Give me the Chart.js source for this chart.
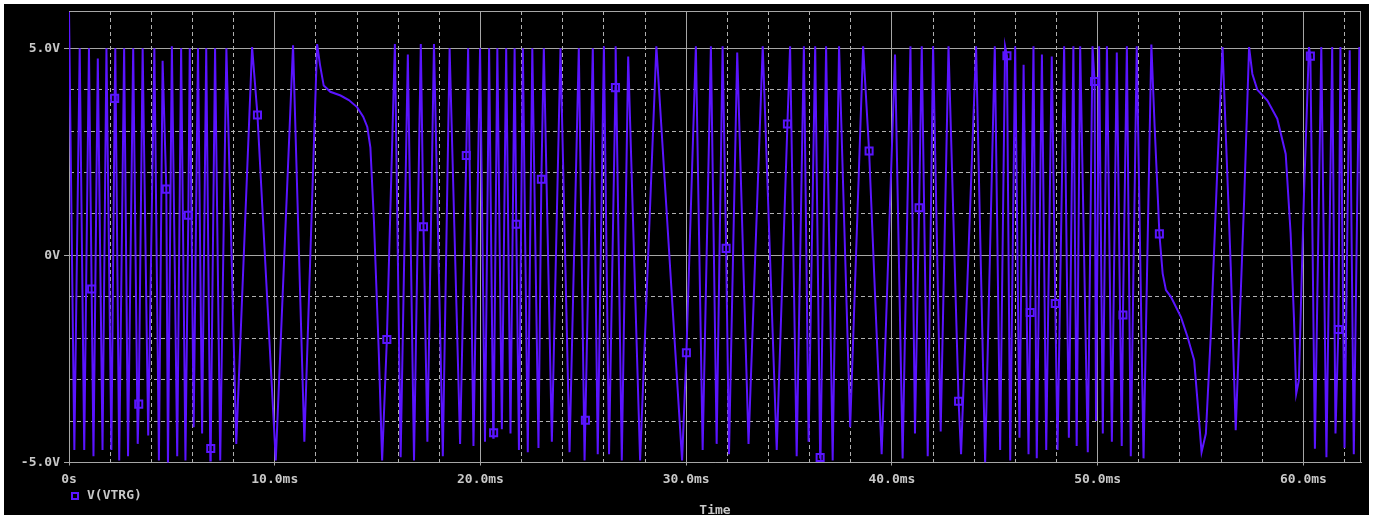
<!DOCTYPE html>
<html lang="en">
<head>
<meta charset="UTF-8">
<title>V(VTRG) transient</title>
<script src="https://cdn.jsdelivr.net/npm/chart.js"></script>
<style>
  html, body { margin: 0; padding: 0; background: #ffffff; overflow: hidden; }
  .scope { position: absolute; left: 4px; top: 4px; width: 1365px; height: 511px; background: #000000; }
</style>
</head>
<body>
<div class="scope"><canvas id="trace"></canvas></div>
<script>
// waveform turning points (time in ms, volts)
const waveTimeMs = [
  0, 0.26, 0.52, 0.74, 0.97, 1.19, 1.40, 1.63, 1.82, 2.06, 2.25, 2.44, 2.68, 2.87, 3.12, 3.34, 3.58, 3.85,
  4.15, 4.37, 4.55, 4.81, 5.00, 5.26, 5.45, 5.66, 5.87, 6.06, 6.27, 6.47, 6.67, 6.87, 7.10, 7.35, 7.65, 8.13,
  8.90, 10.05, 10.89, 11.44, 12.06, 12.2, 12.38, 12.7, 13.2, 13.6, 14.0, 14.3, 14.5, 14.65, 14.82, 15.06, 15.22,
  15.84, 16.12, 16.47, 16.77, 17.10, 17.42, 17.74, 18.17, 18.50, 19.01, 19.40, 19.66, 19.98, 20.22, 20.42, 20.62,
  20.82, 21.04, 21.25, 21.46, 21.66, 21.87, 22.06, 22.30, 22.52, 22.82, 23.08, 23.47, 23.89, 24.33, 24.78, 25.06,
  25.46, 25.70, 26.00, 26.25, 26.57, 26.87, 27.18, 27.76, 28.55, 29.80, 30.47, 30.80, 31.20, 31.48, 31.77, 32.08,
  32.48, 33.03, 33.72, 34.40, 35.05, 35.37, 35.72, 35.95, 36.27, 36.53, 36.80, 37.12, 37.43, 37.97, 38.60, 39.50,
  40.15, 40.52, 40.90, 41.12, 41.45, 41.74, 42.00, 42.37, 42.75, 43.36, 44.09, 44.53, 45.00, 45.26, 45.50, 45.75,
  45.99, 46.20, 46.40, 46.64, 46.88, 47.04, 47.29, 47.50, 47.77, 48.05, 48.37, 48.60, 48.82, 48.98, 49.15, 49.52,
  49.75, 49.92, 50.07, 50.25, 50.45, 50.69, 50.93, 51.17, 51.42, 51.61, 51.90, 52.23, 52.61, 52.77, 52.93, 53.16,
  53.32, 53.56, 54.05, 54.37, 54.69, 54.85, 55.05, 55.26, 55.50, 55.82, 56.07, 56.47, 56.71, 57.12, 57.36, 57.52,
  57.76, 58.25, 58.73, 59.14, 59.38, 59.54, 59.65, 59.78, 60.02, 60.27, 60.56, 60.87, 61.12, 61.40, 61.56, 61.80,
  62.00, 62.25, 62.45, 62.72, 62.80
];
const waveVolts = [
  5.9, -4.7, 5.0, -4.7, 5.0, -4.85, 4.75, -4.7, 5.0, -4.7, 5.0, -4.95, 5.0, -4.85, 5.0, -4.55, 5.0, -4.35,
  5.0, -4.95, 4.7, -5.1, 5.05, -4.85, 5.0, -4.95, 5.0, -4.15, 5.0, -4.3, 5.0, -4.95, 5.0, -4.95, 5.0, -4.55,
  5.03, -4.95, 5.07, -4.5, 5.1, 4.6, 4.1, 3.95, 3.86, 3.75, 3.58, 3.35, 3.1, 2.6, 0.85, -2.37, -4.95,
  5.1, -4.87, 4.85, -4.95, 5.1, -4.5, 5.1, -4.85, 5.0, -4.55, 5.0, -4.6, 5.0, -4.5, 5.0, -4.4,
  5.0, -4.2, 5.0, -4.3, 5.0, -4.7, 5.0, -4.75, 5.0, -4.65, 5.0, -4.5, 5.0, -4.75, 5.0, -4.95,
  5.0, -4.8, 5.05, -4.8, 5.05, -4.95, 4.8, -4.95, 5.05, -4.95, 5.05, -4.7, 5.05, -4.55, 5.05, -4.8,
  4.9, -4.55, 5.05, -4.7, 5.05, -4.85, 5.05, -4.5, 5.05, -4.9, 5.05, -4.95, 5.05, -4.15, 5.05, -4.8,
  4.85, -4.9, 5.05, -4.3, 5.05, -4.85, 5.05, -4.25, 5.05, -4.8, 5.05, -5.0, 5.05, -4.7, 5.05, -4.95,
  5.05, -4.4, 4.6, -4.8, 5.05, -4.9, 4.85, -4.7, 4.8, -4.7, 5.05, -4.4, 5.05, -4.6, 5.05, -4.75,
  5.05, -4.0, 5.05, -4.3, 5.05, -4.5, 4.9, -4.6, 5.05, -4.85, 5.05, -4.9, 5.09, 3.1, 1.33, -0.44,
  -0.84, -1.0, -1.49, -1.97, -2.53, -3.5, -4.75, -4.3, -1.9, 2.13, 5.03, -0.28, -4.22, 1.33, 5.03, 4.38,
  4.0, 3.74, 3.3, 2.45, 0.52, -1.49, -3.34, -3.02, 1.33, 5.03, -4.67, 5.03, -4.87, 5.03, -4.3, 5.03,
  -4.65, 4.95, -4.8, 5.03, 0.5
];

// trace markers (open squares)
const markerTimeMs = [1.10, 2.22, 3.39, 4.73, 5.80, 6.89, 9.16, 15.45, 17.23, 19.31, 20.64, 21.74, 22.96, 25.10, 26.56,
  30.01, 31.94, 34.92, 36.51, 38.89, 41.32, 43.24, 45.59, 46.72, 47.94, 49.85, 51.23, 53.00, 60.34, 61.70];
const markerVolts = [-0.81, 3.79, -3.59, 1.6, 0.97, -4.66, 3.39, -2.03, 0.69, 2.41, -4.28, 0.75, 1.84, -3.98, 4.05,
  -2.35, 0.17, 3.17, -4.88, 2.52, 1.15, -3.52, 4.82, -1.38, -1.16, 4.2, -1.44, 0.52, 4.81, -1.79];

// axes
const xGridMs = [0, 2, 4, 6, 8, 10, 12, 14, 16, 18, 20, 22, 24, 26, 28, 30, 32, 34, 36, 38, 40, 42, 44, 46, 48, 50, 52, 54, 56, 58, 60, 62];
const xLabelMs = [0, 10, 20, 30, 40, 50, 60];
const xTickLabels = ['0s', '10.0ms', '20.0ms', '30.0ms', '40.0ms', '50.0ms', '60.0ms'];
const yGridVolts = [-5, -4, -3, -2, -1, 0, 1, 2, 3, 4, 5];
const yLabelVolts = [-5, 0, 5];
const yTickLabels = ['-5.0V', '0V', '5.0V'];
const legendLabel = 'V(VTRG)';
const axisTitle = 'Time';

const traceColor = '#5a14ff';
const solidGrid = '#a6a6a6';
const dashGrid = '#b0b0b0';
const textColor = '#c8c8c8';
const labelFont = { family: 'DejaVu Sans Mono', size: 13, weight: 'bold' };

// line vertices: turning points plus the marker points, in time order
const tracePoints = waveTimeMs.map((t, i) => ({ x: t, y: waveVolts[i] }))
  .concat(markerTimeMs.map((t, i) => ({ x: t, y: markerVolts[i] })))
  .sort((a, b) => a.x - b.x);
const markerPoints = markerTimeMs.map((t, i) => ({ x: t, y: markerVolts[i] }));

const isMajor = (ctx, list) => ctx.tick && list.includes(ctx.tick.value);

const scopeDecor = {
  id: 'scopeDecor',
  afterDraw(chart) {
    const { ctx, chartArea: a } = chart;
    ctx.save();
    ctx.strokeStyle = solidGrid;
    ctx.lineWidth = 1;
    ctx.beginPath();
    ctx.moveTo(a.left, Math.round(a.top) + 0.5);
    ctx.lineTo(a.right, Math.round(a.top) + 0.5);
    ctx.moveTo(Math.round(a.right) - 0.5, a.top);
    ctx.lineTo(Math.round(a.right) - 0.5, a.bottom);
    ctx.stroke();

    // legend entry under the axis labels
    ctx.strokeStyle = traceColor;
    ctx.lineWidth = 2;
    ctx.strokeRect(a.left + 3, 489, 6, 6);
    ctx.fillStyle = textColor;
    ctx.font = 'bold 13px "DejaVu Sans Mono"';
    ctx.textBaseline = 'middle';
    ctx.textAlign = 'left';
    ctx.fillText(legendLabel, a.left + 18, 492);
    ctx.textAlign = 'center';
    ctx.fillText(axisTitle, (a.left + a.right) / 2, 507);
    ctx.restore();
  }
};

new Chart(document.getElementById('trace'), {
  type: 'line',
  data: {
    datasets: [{
      data: tracePoints,
      borderColor: traceColor,
      borderWidth: 2,
      pointRadius: 0,
      tension: 0
    }, {
      data: markerPoints,
      showLine: false,
      pointStyle: 'rect',
      pointRadius: 5,
      pointBorderWidth: 2,
      pointBorderColor: traceColor,
      pointBackgroundColor: '#000000'
    }]
  },
  options: {
    responsive: true,
    maintainAspectRatio: false,
    animation: false,
    events: [],
    layout: { padding: { top: 7, right: 8, left: 0, bottom: 0 } },
    plugins: { legend: { display: false }, tooltip: { enabled: false } },
    scales: {
      x: {
        type: 'linear',
        min: 0,
        max: 62.8,
        afterBuildTicks: scale => { scale.ticks = xGridMs.map(v => ({ value: v })); },
        afterFit: scale => { scale.height = 52.5; scale.paddingLeft = 0; scale.paddingRight = 0; },
        ticks: {
          color: textColor,
          font: labelFont,
          padding: 6,
          autoSkip: false,
          maxRotation: 0,
          callback: v => { const i = xLabelMs.indexOf(v); return i < 0 ? '' : xTickLabels[i]; }
        },
        grid: {
          color: ctx => isMajor(ctx, xLabelMs) ? solidGrid : dashGrid,
          tickColor: ctx => isMajor(ctx, xLabelMs) ? solidGrid : 'transparent',
          tickLength: 3,
          lineWidth: 1
        },
        border: {
          color: solidGrid,
          dash: ctx => (!ctx.tick || isMajor(ctx, xLabelMs)) ? [] : [4, 3]
        }
      },
      y: {
        min: -5,
        max: 5.9,
        afterBuildTicks: scale => { scale.ticks = yGridVolts.map(v => ({ value: v })); },
        afterFit: scale => { scale.width = 65; scale.paddingTop = 0; scale.paddingBottom = 0; },
        ticks: {
          color: textColor,
          font: labelFont,
          padding: 4,
          autoSkip: false,
          callback: v => { const i = yLabelVolts.indexOf(v); return i < 0 ? '' : yTickLabels[i]; }
        },
        grid: {
          color: ctx => isMajor(ctx, yLabelVolts) ? solidGrid : dashGrid,
          tickColor: ctx => isMajor(ctx, yLabelVolts) ? solidGrid : 'transparent',
          tickLength: 5,
          lineWidth: 1
        },
        border: {
          color: solidGrid,
          dash: ctx => (!ctx.tick || isMajor(ctx, yLabelVolts)) ? [] : [4, 3]
        }
      }
    }
  },
  plugins: [scopeDecor]
});
</script>
</body>
</html>
